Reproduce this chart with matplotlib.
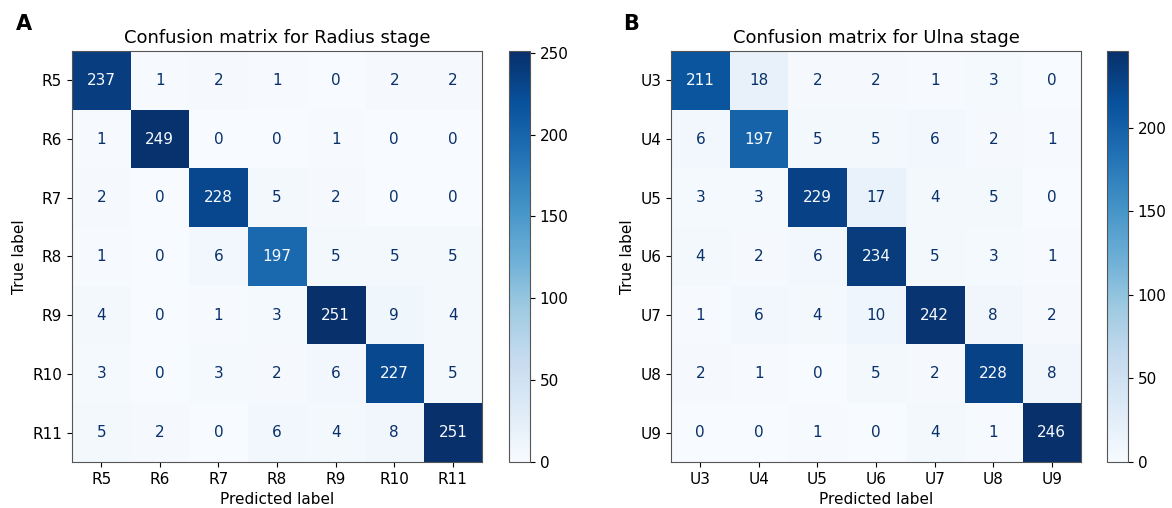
import numpy as np
import matplotlib
matplotlib.use("Agg")
import matplotlib.pyplot as plt

# etiquetas de las clases
radius_labels = ["R5", "R6", "R7", "R8", "R9", "R10", "R11"]
ulna_labels = ["U3", "U4", "U5", "U6", "U7", "U8", "U9"]

# matrices de confusion (filas = verdadero, columnas = predicho)
radius_cm = [
    [237, 1, 2, 1, 0, 2, 2],
    [1, 249, 0, 0, 1, 0, 0],
    [2, 0, 228, 5, 2, 0, 0],
    [1, 0, 6, 197, 5, 5, 5],
    [4, 0, 1, 3, 251, 9, 4],
    [3, 0, 3, 2, 6, 227, 5],
    [5, 2, 0, 6, 4, 8, 251],
]
ulna_cm = [
    [211, 18, 2, 2, 1, 3, 0],
    [6, 197, 5, 5, 6, 2, 1],
    [3, 3, 229, 17, 4, 5, 0],
    [4, 2, 6, 234, 5, 3, 1],
    [1, 6, 4, 10, 242, 8, 2],
    [2, 1, 0, 5, 2, 228, 8],
    [0, 0, 1, 0, 4, 1, 246],
]

titles = ["Confusion matrix for Radius stage", "Confusion matrix for Ulna stage"]
letters = ["A", "B"]

fig = plt.figure(figsize=(11.72, 5.08), dpi=100)
cmap = plt.cm.Blues

# posiciones de los ejes en fraccion de figura
ax_pos = [[0.0614, 0.0906, 0.350, 0.809], [0.5725, 0.0906, 0.350, 0.809]]
cb_pos = [[0.4343, 0.0906, 0.0179, 0.809], [0.9445, 0.0906, 0.0179, 0.809]]
letter_x = [0.0137, 0.5316]

for k, (cm, labels) in enumerate([(radius_cm, radius_labels), (ulna_cm, ulna_labels)]):
    cm = np.array(cm)
    ax = fig.add_axes(ax_pos[k])
    im = ax.imshow(cm, cmap=cmap, aspect="auto", interpolation="nearest")
    thresh = (cm.max() + cm.min()) / 2.0
    for i in range(cm.shape[0]):
        for j in range(cm.shape[1]):
            color = cmap(0.0) if cm[i, j] > thresh else cmap(1.0)
            ax.text(j, i, str(cm[i, j]), ha="center", va="center",
                    color=color, fontsize=11)
    n = len(labels)
    ax.set_xticks(range(n))
    ax.set_xticklabels(labels, fontsize=11)
    ax.set_yticks(range(n))
    ax.set_yticklabels(labels, fontsize=11)
    ax.set_xlabel("Predicted label", fontsize=11)
    ax.set_ylabel("True label", fontsize=11)
    ax.set_title(titles[k], fontsize=13)
    for s in ax.spines.values():
        s.set_color("#555555")

    cax = fig.add_axes(cb_pos[k])
    cb = fig.colorbar(im, cax=cax)
    cb.ax.tick_params(labelsize=11)
    cb.outline.set_edgecolor("#555555")

    fig.text(letter_x[k], 0.941, letters[k], fontsize=15, fontweight="bold")

fig.savefig("out.png", dpi=100)
